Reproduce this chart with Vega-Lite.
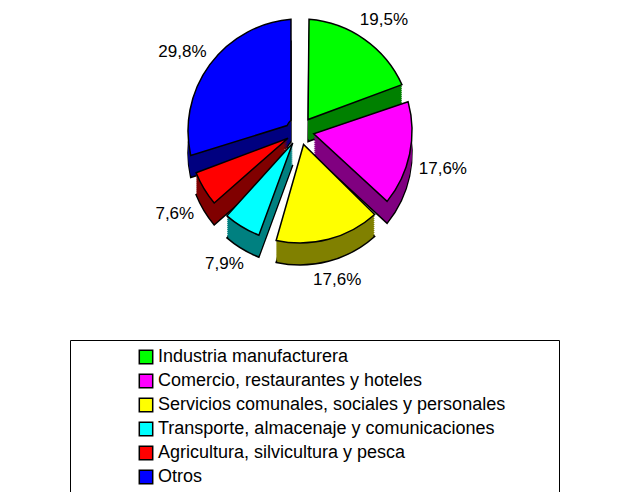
{
  "$schema": "https://vega.github.io/schema/vega-lite/v6.json",
  "width": 600,
  "height": 262,
  "padding": 0,
  "background": "white",
  "config": {"view": {"stroke": null}, "font": "Liberation Sans"},
  "data": {"values": [
    {"orden": 1, "sector": "Industria manufacturera", "valor": 19.5, "etiqueta": "19,5%"},
    {"orden": 2, "sector": "Comercio, restaurantes y hoteles", "valor": 17.6, "etiqueta": "17,6%"},
    {"orden": 3, "sector": "Servicios comunales, sociales y personales", "valor": 17.6, "etiqueta": "17,6%"},
    {"orden": 4, "sector": "Transporte, almacenaje y comunicaciones", "valor": 7.9, "etiqueta": "7,9%"},
    {"orden": 5, "sector": "Agricultura, silvicultura y pesca", "valor": 7.6, "etiqueta": "7,6%"},
    {"orden": 6, "sector": "Otros", "valor": 29.8, "etiqueta": "29,8%"}
  ]},
  "encoding": {
    "theta": {"field": "valor", "type": "quantitative", "stack": true},
    "order": {"field": "orden", "type": "ordinal"}
  },
  "resolve": {"legend": {"color": "independent", "fill": "independent"}},
  "layer": [
    {
      "mark": {"type": "arc", "outerRadius": 112, "innerRadius": 14, "padAngle": 0.16, "yOffset": 22, "stroke": "black", "strokeWidth": 1.5},
      "encoding": {"fill": {"field": "sector", "type": "nominal", "legend": null,
        "scale": {"domain": ["Industria manufacturera", "Comercio, restaurantes y hoteles", "Servicios comunales, sociales y personales", "Transporte, almacenaje y comunicaciones", "Agricultura, silvicultura y pesca", "Otros"],
                  "range": ["#008000", "#800080", "#808000", "#008080", "#800000", "#000080"]}}}
    },
    {"mark": {"type": "arc", "outerRadius": 112, "innerRadius": 14, "padAngle": 0.16, "yOffset": 20}, "encoding": {"fill": {"field": "sector", "type": "nominal", "legend": null}}},
    {"mark": {"type": "arc", "outerRadius": 112, "innerRadius": 14, "padAngle": 0.16, "yOffset": 18}, "encoding": {"fill": {"field": "sector", "type": "nominal", "legend": null}}},
    {"mark": {"type": "arc", "outerRadius": 112, "innerRadius": 14, "padAngle": 0.16, "yOffset": 16}, "encoding": {"fill": {"field": "sector", "type": "nominal", "legend": null}}},
    {"mark": {"type": "arc", "outerRadius": 112, "innerRadius": 14, "padAngle": 0.16, "yOffset": 14}, "encoding": {"fill": {"field": "sector", "type": "nominal", "legend": null}}},
    {"mark": {"type": "arc", "outerRadius": 112, "innerRadius": 14, "padAngle": 0.16, "yOffset": 12}, "encoding": {"fill": {"field": "sector", "type": "nominal", "legend": null}}},
    {"mark": {"type": "arc", "outerRadius": 112, "innerRadius": 14, "padAngle": 0.16, "yOffset": 10}, "encoding": {"fill": {"field": "sector", "type": "nominal", "legend": null}}},
    {"mark": {"type": "arc", "outerRadius": 112, "innerRadius": 14, "padAngle": 0.16, "yOffset": 8}, "encoding": {"fill": {"field": "sector", "type": "nominal", "legend": null}}},
    {"mark": {"type": "arc", "outerRadius": 112, "innerRadius": 14, "padAngle": 0.16, "yOffset": 6}, "encoding": {"fill": {"field": "sector", "type": "nominal", "legend": null}}},
    {"mark": {"type": "arc", "outerRadius": 112, "innerRadius": 14, "padAngle": 0.16, "yOffset": 4}, "encoding": {"fill": {"field": "sector", "type": "nominal", "legend": null}}},
    {"mark": {"type": "arc", "outerRadius": 112, "innerRadius": 14, "padAngle": 0.16, "yOffset": 2}, "encoding": {"fill": {"field": "sector", "type": "nominal", "legend": null}}},
    {
      "mark": {"type": "arc", "outerRadius": 112, "innerRadius": 14, "padAngle": 0.16, "stroke": "black", "strokeWidth": 1.5},
      "encoding": {"color": {"field": "sector", "type": "nominal",
        "scale": {"domain": ["Industria manufacturera", "Comercio, restaurantes y hoteles", "Servicios comunales, sociales y personales", "Transporte, almacenaje y comunicaciones", "Agricultura, silvicultura y pesca", "Otros"],
                  "range": ["#00FF00", "#FF00FF", "#FFFF00", "#00FFFF", "#FF0000", "#0000FF"]},
        "legend": {"title": null, "orient": "none", "legendX": 70, "legendY": 340, "direction": "vertical",
          "strokeColor": "black", "fillColor": "white", "padding": 8, "symbolOffset": 59,
          "symbolType": "square", "symbolSize": 180, "symbolStrokeColor": "black", "symbolStrokeWidth": 1.5,
          "symbolOpacity": 1, "labelFont": "Liberation Sans", "labelFontSize": 18, "labelColor": "black",
          "labelOffset": 3, "rowPadding": 4, "labelLimit": 600,
          "labelExpr": "datum.label + '\u00a0\u00a0\u00a0\u00a0\u00a0\u00a0\u00a0\u00a0\u00a0\u200b'"}}}
    },
    {
      "mark": {"type": "text", "radius": 146, "yOffset": 8, "font": "Liberation Sans", "fontSize": 17, "color": "black"},
      "encoding": {"text": {"field": "etiqueta"}}
    }
  ]
}
